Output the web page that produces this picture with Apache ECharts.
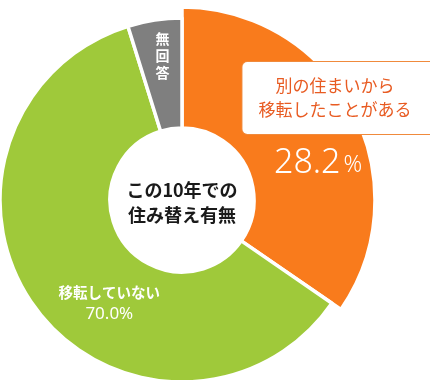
<!DOCTYPE html>
<html lang="ja">
<head>
<meta charset="utf-8">
<title>この10年での住み替え有無</title>
<script src="https://cdn.jsdelivr.net/npm/echarts@6/dist/echarts.min.js"></script>
<style>
    html, body { margin: 0; padding: 0; background: #fff; }
    #main { width: 430px; height: 380px; }
</style>
</head>
<body>
<div id="main"></div>
<script>
    // 項目名
    var names = ['別の住まいから\n移転したことがある', '移転していない', '無回答'];
    // 図に印字されている割合
    var percentLabels = ['28.2', '70.0', ''];
    // 図で描かれている扇の大きさ（元図は印字の％どおりの比率では描かれていない）
    var drawnShare = [34.6, 60.6, 4.8];
    var colors = ['#f97b1c', '#9fc93a', '#7f7f7f'];

    var chart = echarts.init(document.getElementById('main'));
    var font = '"Noto Sans CJK JP", "Noto Sans", sans-serif';

    // 緑・灰の扇（オレンジは透明の場所取り、％の数字だけ表示）
    var baseData = names.map(function (n, i) {
        var item = {
            name: n,
            value: drawnShare[i],
            itemStyle: i === 0
                ? {color: 'rgba(0,0,0,0)', borderWidth: 0}
                : {color: colors[i], borderColor: '#fff', borderWidth: 3.5}
        };
        if (i === 0) {
            item.label = {formatter: '{n|' + percentLabels[0] + '}{p|%}'};
        } else if (i === 1) {
            item.label = {formatter: '{t|' + n + '}\n{m|' + percentLabels[1] + '%}'};
        } else {
            item.label = {formatter: '{v|' + n.split('').join('\n') + '}'};
        }
        return item;
    });

    // オレンジの扇（少し大きい半径）
    var bigData = names.map(function (n, i) {
        return {
            name: n,
            value: drawnShare[i],
            itemStyle: i === 0
                ? {color: colors[0], borderColor: '#fff', borderWidth: 3.5}
                : {color: 'rgba(0,0,0,0)', borderWidth: 0},
            label: {show: i === 0}
        };
    });

    var option = {
        animation: false,
        graphic: [{
            type: 'text',
            x: 182, y: 203,
            style: {
                text: 'この10年での\n住み替え有無',
                font: 'bold 18px ' + font,
                fill: '#1a1a1a',
                align: 'center',
                verticalAlign: 'middle',
                lineHeight: 25
            },
            z: 10
        }],
        series: [
            {
                type: 'pie',
                center: [182, 200],
                radius: [72, 182],
                startAngle: 90,
                silent: true,
                z: 4,
                label: {
                    show: true,
                    position: 'inside',
                    color: '#fff',
                    fontFamily: font,
                    rich: {
                        n: {fontSize: 34, color: '#fff', fontFamily: '"Noto Sans", sans-serif', fontWeight: 300, padding: [0, 3, 0, 0]},
                        p: {fontSize: 23, color: '#fff', fontFamily: '"Noto Sans", sans-serif', fontWeight: 300, verticalAlign: 'bottom', padding: [0, 0, 4, 0]},
                        t: {fontSize: 14.5, color: '#fff', fontWeight: 'bold', fontFamily: font, lineHeight: 22, align: 'center'},
                        m: {fontSize: 17, color: '#fff', fontFamily: '"Noto Sans", sans-serif', lineHeight: 22, align: 'center'},
                        v: {fontSize: 14, color: '#fff', fontWeight: 'bold', fontFamily: font, lineHeight: 17, align: 'center'}
                    }
                },
                labelLine: {show: false},
                labelLayout: function (p) {
                    return [{dx: 21, dy: 24}, {dx: 32, dy: 26}, {dx: 0, dy: -16}][p.dataIndex];
                },
                emphasis: {disabled: true},
                data: baseData
            },
            {
                type: 'pie',
                center: [182, 200],
                radius: [72, 193],
                startAngle: 90,
                silent: true,
                z: 3,
                label: {
                    position: 'inside',
                    color: '#e85b22',
                    fontSize: 17,
                    fontFamily: font,
                    lineHeight: 24,
                    align: 'left',
                    backgroundColor: '#fff',
                    borderColor: '#f08a3c',
                    borderWidth: 1,
                    borderRadius: 5,
                    padding: [12, 24, 12, 16]
                },
                labelLine: {show: false},
                labelLayout: function (p) {
                    return {dx: 37, dy: -39};
                },
                emphasis: {disabled: true},
                data: bigData
            }
        ]
    };

    chart.setOption(option);
</script>
</body>
</html>
